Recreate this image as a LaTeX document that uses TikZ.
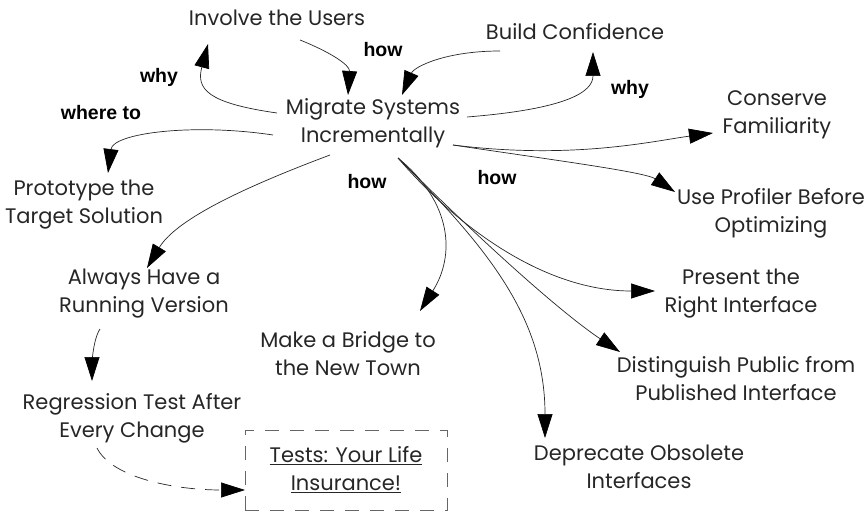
\documentclass[tikz,border=0pt]{standalone}
\usepackage{fontspec}
\setmainfont{Poppins}
\newfontfamily\lblfont{Liberation Sans}
\usetikzlibrary{arrows.meta,calc}

\tikzset{
    concept/.style={align=center, inner sep=2pt, font=\fontsize{21}{28}\selectfont, text=black!85},
    rel/.style={inner sep=1pt, font=\lblfont\bfseries\fontsize{19.5}{21}\selectfont},
    link/.style={draw=black!85, line width=0.7pt, -{Triangle[length=24pt,width=15pt,color=black]}},
}

\begin{document}
\begin{tikzpicture}[x=1pt,y=-1pt]
    \useasboundingbox (0,0) rectangle (866,513);

    % concepts
    \node[concept] (mig) at (373,123) {Migrate Systems\\Incrementally};
    \node[concept] (inv) at (277,18) {Involve the Users};
    \node[concept] (conf) at (575,32) {Build Confidence};
    \node[concept] (fam) at (777,115) {Conserve\\Familiarity};
    \node[concept] (prof) at (771,213) {Use Profiler Before\\Optimizing};
    \node[concept] (proto) at (84,205) {Prototype the\\Target Solution};
    \node[concept] (run) at (144,294) {Always Have a\\Running Version};
    \node[concept] (bridge) at (348,354) {Make a Bridge to\\the New Town};
    \node[concept] (iface) at (741,294) {Present the\\Right Interface};
    \node[concept] (pub) at (736,379) {Distinguish Public from\\Published Interface};
    \node[concept] (depr) at (639,467) {Deprecate Obsolete\\Interfaces};
    \node[concept] (regr) at (132,418) {Regression Test After\\Every Change};
    \node[concept, draw=black!60, dashed, dash pattern=on 14pt off 11pt,
          minimum width=202pt, minimum height=80pt] (tests) at (346,470)
          {\underline{Tests: Your Life}\\\underline{Insurance!}};

    % relation labels
    \node[rel] (how1) at (383,50) {how};
    \node[rel] (why1) at (159,77) {why};
    \node[rel] (where) at (101,113) {where to};
    \node[rel] (why2) at (630,89) {why};
    \node[rel] (how2) at (367,182) {how};
    \node[rel] (how3) at (497,178) {how};

    % links
    \draw[link] ($(mig)+(-96,-10)$) .. controls +(-70,-10) and +(-12,45) .. ($(inv)+(-69,26)$);
    \draw[link] ($(inv)+(23,22)$) .. controls +(30,12) and +(2,-30) .. ($(mig)+(-25,-28)$);
    \draw[link] ($(conf)+(-75,19)$) .. controls +(-55,0) and +(12,-28) .. ($(mig)+(29,-28)$);
    \draw[link] ($(mig)+(94,-6)$) .. controls +(100,-8) and +(0,40) .. ($(conf)+(18,20)$);
    \draw[link] ($(mig)+(-100,12)$) .. controls +(-80,-12) and +(5,-40) .. ($(proto)+(24,-32)$);
    \draw[link] ($(mig)+(-43,32)$) .. controls +(-80,30) and +(30,-50) .. ($(run)+(3,-26)$);
    \draw[link] ($(mig)+(25,35)$) .. controls +(55,45) and +(35,-55) .. ($(bridge)+(72,-43)$);
    \draw[link] ($(mig)+(80,22)$) .. controls +(120,15) and +(-60,8) .. ($(fam)+(-64,18)$);
    \draw[link] ($(mig)+(80,22)$) .. controls +(100,15) and +(-30,-20) .. ($(prof)+(-96,-21)$);
    \draw[link] ($(mig)+(25,35)$) .. controls +(60,70) and +(-110,0) .. ($(iface)+(-86,-3)$);
    \draw[link] ($(mig)+(25,35)$) .. controls +(80,80) and +(-60,-40) .. ($(pub)+(-116,-27)$);
    \draw[link] ($(mig)+(25,35)$) .. controls +(90,90) and +(0,-120) .. ($(depr)+(-94,-29)$);
    \draw[link] ($(run)+(-44,35)$) .. controls +(-8,12) and +(0,-10) .. ($(regr)+(-40,-37)$);
    \draw[link, dashed, dash pattern=on 14pt off 10pt] ($(regr)+(-35,30)$) .. controls +(15,30) and +(-70,0) .. ($(tests)+(-101,20)$);
\end{tikzpicture}
\end{document}
